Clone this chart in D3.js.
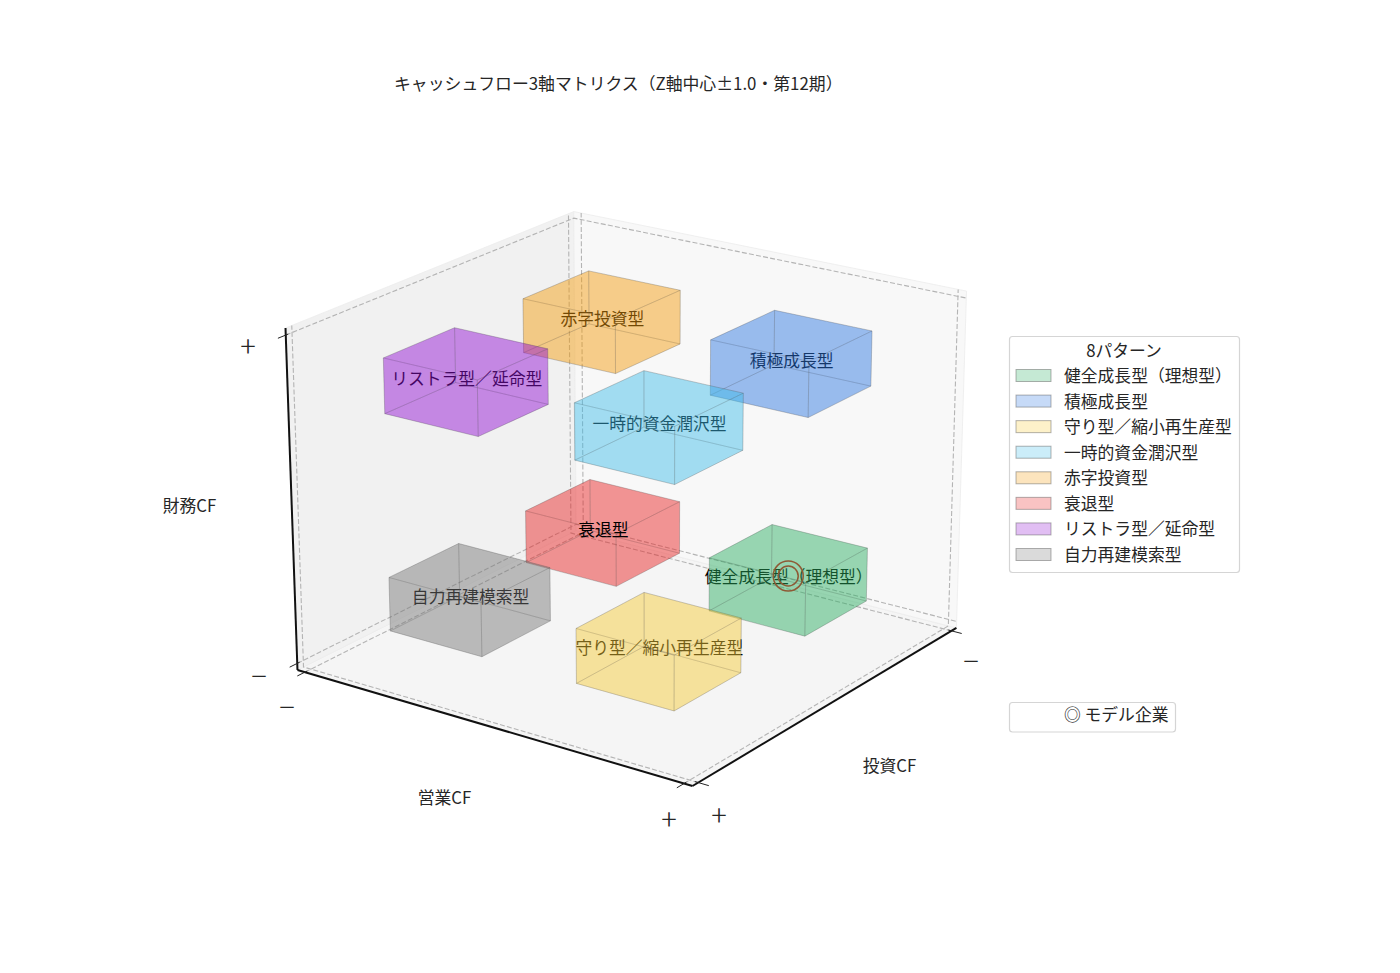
<!DOCTYPE html>
<html>
<head>
<meta charset="utf-8">
<script src="https://d3js.org/d3.v7.min.js"></script>
<style>
    body { margin: 0; background: #fff; }
    text { font-family: "Noto Sans CJK JP", "Noto Sans", sans-serif; fill: #262626; }
</style>
</head>
<body>
<div id="chart"></div>
<script>
// data
const patternNames = ["健全成長型（理想型）", "積極成長型", "守り型／縮小再生産型", "一時的資金潤沢型", "赤字投資型", "衰退型", "リストラ型／延命型", "自力再建模索型"];
const patternColors = ["#27ae60", "#2b75e0", "#f9cc38", "#40bcea", "#f59b0a", "#ea2020", "#8f10d1", "#757575"];
const centerOp = [1, 1, 1, 1, -1, -1, -1, -1];    // 営業CF
const centerInv = [-1, -1, 1, 1, -1, -1, 1, 1];   // 投資CF
const centerFin = [-1, 1, -1, 1, 1, -1, 1, -1];   // 財務CF
const boxSizeX = 1, boxSizeY = 1, boxSizeZ = 0.5;
const modelPoint = [1, -1, -1];
const xLim = 2, yLim = 2, zLim = 1.5;
const tickSigns = ["−", "+"];

const width = 1400, height = 973;
const svg = d3.select("#chart").append("svg").attr("width", width).attr("height", height);

// 軸の範囲 (paneは1/48だけ外に出る)
const xPad = xLim * 2 / 48, yPad = yLim * 2 / 48, zPad = zLim * 2 / 48;
const uScale = d3.scaleLinear().domain([xLim + xPad, -xLim - xPad]).range([0, 1]);
const vScale = d3.scaleLinear().domain([yLim + yPad, -yLim - yPad]).range([0, 1]);
const wScale = d3.scaleLinear().domain([-zLim - zPad, zLim + zPad]).range([0, 1]);

// 透視投影
function projUVW(u, v, w) {
    const d = 1 + 0.07 * u + 0.09 * v - 0.035 * w;
    return [(692.5 - 374.2 * u + 350 * v - 22.8 * w) / d,
            (786 - 69.1 * u - 101.5 * v - 377.4 * w) / d];
}
function proj(x, y, z) {
    return projUVW(uScale(x), vScale(y), wScale(z));
}
const line = d3.line();
const closed = pts => line(pts) + "Z";

// panes
const panes = [
    { fill: "#f5f5f5", pts: [[0,0,0],[1,0,0],[1,1,0],[0,1,0]] },
    { fill: "#f1f1f1", pts: [[1,0,0],[1,1,0],[1,1,1],[1,0,1]] },
    { fill: "#f8f8f8", pts: [[0,1,0],[1,1,0],[1,1,1],[0,1,1]] }
];
svg.append("g").selectAll("path").data(panes).join("path")
    .attr("d", d => closed(d.pts.map(p => projUVW(...p))))
    .attr("fill", d => d.fill)
    .attr("stroke", "#ececec")
    .attr("stroke-width", 0.8);

// grid
const gridLines = [];
[-xLim, xLim].forEach(t => {
    const u = uScale(t);
    gridLines.push([[u,0,0],[u,1,0],[u,1,1]]);
});
[-yLim, yLim].forEach(t => {
    const v = vScale(t);
    gridLines.push([[0,v,0],[1,v,0],[1,v,1]]);
});
[-zLim, zLim].forEach(t => {
    const w = wScale(t);
    gridLines.push([[1,0,w],[1,1,w],[0,1,w]]);
});
svg.append("g").selectAll("path").data(gridLines).join("path")
    .attr("d", d => line(d.map(p => projUVW(...p))))
    .attr("fill", "none")
    .attr("stroke", "#b4b4b4")
    .attr("stroke-width", 1.1)
    .attr("stroke-dasharray", "5,2.2");

// axes
const axisLines = [
    [[1,0,1],[1,0,0]],
    [[1,0,0],[0,0,0]],
    [[0,0,0],[0,1,0]]
];
svg.append("g").selectAll("path").data(axisLines).join("path")
    .attr("d", d => line(d.map(p => projUVW(...p))))
    .attr("fill", "none")
    .attr("stroke", "#111")
    .attr("stroke-width", 2);

// tick marks
const tickMarks = [];
[-xLim, xLim].forEach(t => { const u = uScale(t); tickMarks.push([[u,-0.025,0],[u,0.008,0]]); });
[-yLim, yLim].forEach(t => { const v = vScale(t); tickMarks.push([[-0.025,v,0],[0.008,v,0]]); });
[-zLim, zLim].forEach(t => { const w = wScale(t); tickMarks.push([[1,-0.025,w],[1,0.008,w]]); });
svg.append("g").selectAll("path").data(tickMarks).join("path")
    .attr("d", d => line(d.map(p => projUVW(...p))))
    .attr("fill", "none")
    .attr("stroke", "#222")
    .attr("stroke-width", 1);

// tick labels
const tickLabels = [
    { t: tickSigns[0], x: 287, y: 705 },
    { t: tickSigns[1], x: 669, y: 817 },
    { t: tickSigns[0], x: 971, y: 659 },
    { t: tickSigns[1], x: 719, y: 813 },
    { t: tickSigns[0], x: 259, y: 674 },
    { t: tickSigns[1], x: 248, y: 344 }
];
svg.append("g").selectAll("text").data(tickLabels).join("text")
    .attr("x", d => d.x).attr("y", d => d.y)
    .attr("text-anchor", "middle").attr("dominant-baseline", "central")
    .style("font-size", "29px")
    .style("font-weight", 300)
    .text(d => d.t);

// axis labels
const axisLabels = [
    { t: "営業CF", x: 444.5, y: 797 },
    { t: "投資CF", x: 889.5, y: 765 },
    { t: "財務CF", x: 189.5, y: 505 }
];
svg.append("g").selectAll("text").data(axisLabels).join("text")
    .attr("x", d => d.x).attr("y", d => d.y)
    .attr("text-anchor", "middle").attr("dominant-baseline", "central")
    .style("font-size", "16.8px")
    .text(d => d.t);

// title
svg.append("text").attr("x", 394).attr("y", 82)
    .attr("dominant-baseline", "central")
    .style("font-size", "16.85px")
    .text("キャッシュフロー3軸マトリクス（Z軸中心±1.0・第12期）");

const patterns = patternNames.map((name, i) => ({
    name, color: patternColors[i], x: centerOp[i], y: centerInv[i], z: centerFin[i]
}));

// labels and marker sit under the boxes, 衰退型 is on top
function drawLabels(sel) {
    sel.selectAll("text").data(d => d).join("text")
        .attr("x", d => proj(d.x, d.y, d.z)[0] + 0.5)
        .attr("y", d => proj(d.x, d.y, d.z)[1] - 3.5)
        .attr("text-anchor", "middle").attr("dominant-baseline", "central")
        .style("font-size", "16.8px")
        .style("fill", "#000")
        .text(d => d.name);
}
svg.append("g").datum(patterns.filter(d => d.name !== "衰退型")).call(drawLabels);

const mp = proj(...modelPoint);
svg.append("g").selectAll("circle").data([15, 10]).join("circle")
    .attr("cx", mp[0]).attr("cy", mp[1] - 3.5).attr("r", d => d)
    .attr("fill", "none").attr("stroke", "#e81010").attr("stroke-width", 1.5);

function boxFaces(d) {
    const x0 = d.x - boxSizeX / 2, x1 = d.x + boxSizeX / 2;
    const y0 = d.y - boxSizeY / 2, y1 = d.y + boxSizeY / 2;
    const z0 = d.z - boxSizeZ / 2, z1 = d.z + boxSizeZ / 2;
    return [
        [[x0,y0,z0],[x1,y0,z0],[x1,y1,z0],[x0,y1,z0]],
        [[x0,y0,z1],[x1,y0,z1],[x1,y1,z1],[x0,y1,z1]],
        [[x0,y0,z0],[x1,y0,z0],[x1,y0,z1],[x0,y0,z1]],
        [[x0,y1,z0],[x1,y1,z0],[x1,y1,z1],[x0,y1,z1]],
        [[x0,y0,z0],[x0,y1,z0],[x0,y1,z1],[x0,y0,z1]],
        [[x1,y0,z0],[x1,y1,z0],[x1,y1,z1],[x1,y0,z1]]
    ];
}
// 奥から手前へ
const drawOrder = patterns.slice().sort((a, b) => (a.x + a.y) - (b.x + b.y) || a.z - b.z);
const boxGroups = svg.append("g").selectAll("g").data(drawOrder).join("g");
boxGroups.selectAll("path").data(d => boxFaces(d).map(f => ({ f, color: d.color }))).join("path")
    .attr("d", d => closed(d.f.map(p => proj(...p))))
    .attr("fill", d => d.color)
    .attr("fill-opacity", 0.27)
    .attr("stroke", "#555")
    .attr("stroke-opacity", 0.22)
    .attr("stroke-width", 0.8);

svg.append("g").datum(patterns.filter(d => d.name === "衰退型")).call(drawLabels);

// legend
const legend = svg.append("g");
legend.append("rect").attr("x", 1009.5).attr("y", 336.5).attr("width", 230).attr("height", 236).attr("rx", 3)
    .attr("fill", "#fff").attr("stroke", "#d5d5d5").attr("stroke-width", 1.2);
legend.append("text").attr("x", 1124).attr("y", 349.5)
    .attr("text-anchor", "middle").attr("dominant-baseline", "central")
    .style("font-size", "16.8px").text("8パターン");
const rowY = d3.scaleLinear().domain([0, 7]).range([375, 554]);
const rows = legend.selectAll("g.row").data(patterns).join("g").attr("class", "row")
    .attr("transform", (d, i) => `translate(0,${rowY(i)})`);
rows.append("rect").attr("x", 1016).attr("y", -5.5).attr("width", 35).attr("height", 12)
    .attr("fill", d => d.color).attr("fill-opacity", 0.27)
    .attr("stroke", "#555").attr("stroke-opacity", 0.45).attr("stroke-width", 1);
rows.append("text").attr("x", 1064).attr("y", 0)
    .attr("dominant-baseline", "central")
    .style("font-size", "16.8px").text(d => d.name);

legend.append("rect").attr("x", 1009.5).attr("y", 702.5).attr("width", 166).attr("height", 29.5).attr("rx", 3)
    .attr("fill", "#fff").attr("stroke", "#d5d5d5").attr("stroke-width", 1.2);
legend.append("text").attr("x", 1064).attr("y", 714)
    .attr("dominant-baseline", "central")
    .style("font-size", "16.8px").text("◎ モデル企業");
</script>
</body>
</html>
